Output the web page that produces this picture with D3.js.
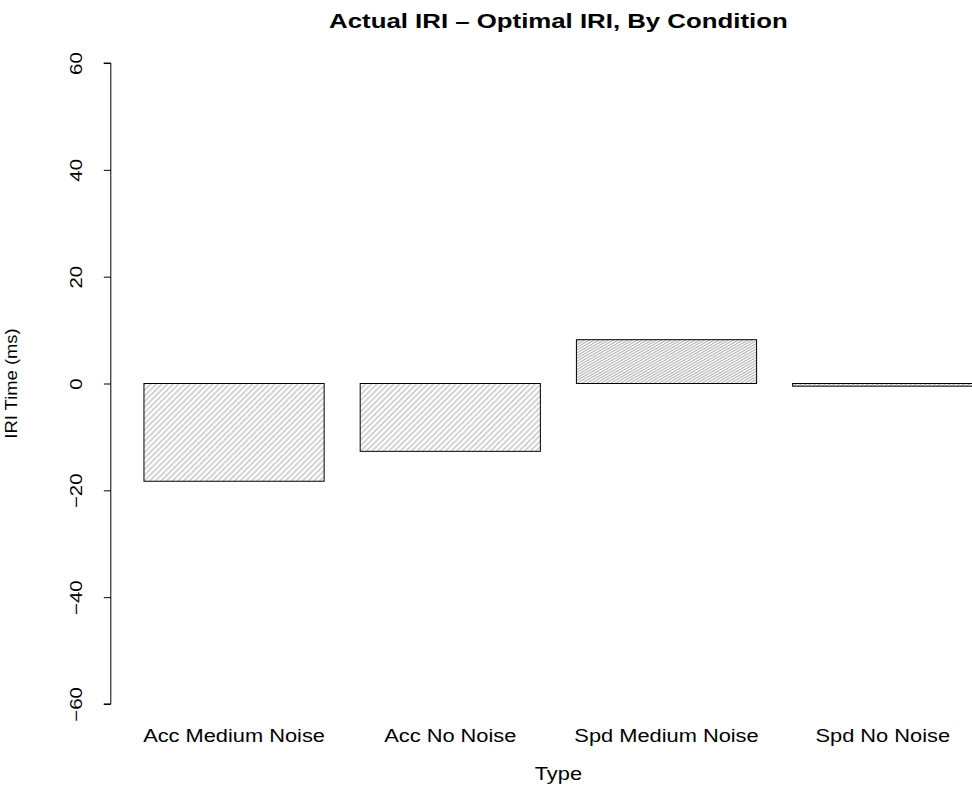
<!DOCTYPE html>
<html>
<head>
<meta charset="utf-8">
<script src="https://cdn.jsdelivr.net/npm/d3@7"></script>
<style>
  html, body { margin: 0; padding: 0; background: #fff; }
  svg { display: block; font-family: "Liberation Sans", Arial, Helvetica, sans-serif; }
</style>
</head>
<body>
<svg id="chart" width="972" height="792"></svg>
<script>
// Difference between actual and optimal IRI per condition
const categories = ["Acc Medium Noise", "Acc No Noise", "Spd Medium Noise", "Spd No Noise"];
const values = [-18.3, -12.7, 8.2, -0.5];
const yTicks = [-60, -40, -20, 0, 20, 40, 60];
// hatch settings per bar: angle (deg) and line spacing (px)
const hatchAngles = [45, 45, 30, 30];
const hatchSpacing = [4, 4, 2.4, 2.4];

const svg = d3.select("#chart");

// wide sans face: glyphs are stretched along the text direction
const wideText = (sel, tx, ty, size, sx, rot) =>
  sel.attr("x", 0).attr("y", 0)
     .attr("font-size", size)
     .attr("transform", `translate(${tx},${ty})${rot ? " rotate(" + rot + ")" : ""} scale(${sx},1)`);

// bar positions in "bar units": width 1, gap 0.2, like a classic barplot
const barW = 1, gap = 0.2;
const lefts = categories.map((c, i) => gap + i * (barW + gap));
const xMin = gap, xMax = gap + categories.length * (barW + gap) - gap;
const xPad = (xMax - xMin) * 0.04;

const plotLeft = 110.8, plotRight = 1006;
const x = d3.scaleLinear().domain([xMin - xPad, xMax + xPad]).range([plotLeft, plotRight]);
const y = d3.scaleLinear().domain([-64.8, 64.8]).range([729.6, 37.4]);
const xMid = (plotLeft + plotRight) / 2;

const defs = svg.append("defs");
categories.forEach((c, i) => {
  const s = hatchSpacing[i];
  const p = defs.append("pattern")
    .attr("id", "hatch" + i)
    .attr("patternUnits", "userSpaceOnUse")
    .attr("width", 10).attr("height", s)
    .attr("patternTransform", `rotate(${-hatchAngles[i]})`);
  p.append("rect").attr("width", 10).attr("height", s).attr("fill", "#fff");
  p.append("line")
    .attr("x1", 0).attr("x2", 10)
    .attr("y1", s / 2).attr("y2", s / 2)
    .attr("stroke", "#aaaaaa").attr("stroke-width", 1);
});

// bars
svg.append("g").selectAll("rect")
  .data(values)
  .join("rect")
  .attr("x", (d, i) => x(lefts[i]))
  .attr("width", (d, i) => x(lefts[i] + barW) - x(lefts[i]))
  .attr("y", d => y(Math.max(0, d)))
  .attr("height", d => Math.abs(y(d) - y(0)))
  .attr("fill", (d, i) => `url(#hatch${i})`)
  .attr("stroke", "#000")
  .attr("stroke-width", 1);

// y axis
const yAxis = d3.axisLeft(y).tickValues(yTicks).tickSize(7).tickFormat(d3.format("d"));
const gy = svg.append("g").attr("transform", `translate(${plotLeft},0)`).call(yAxis);
gy.select(".domain").attr("d", `M-7,${y(60)}H0V${y(-60)}H-7`).attr("stroke", "#000");
gy.selectAll(".tick line").attr("stroke", "#000");
gy.selectAll(".tick text").each(function () {
  wideText(d3.select(this), -28.5, 0, 17, 1.2, -90)
    .attr("fill", "#000")
    .attr("text-anchor", "middle")
    .attr("dy", null);
});

// category labels
svg.append("g").selectAll("text")
  .data(categories)
  .join("text")
  .each(function (d, i) {
    wideText(d3.select(this), x(lefts[i] + barW / 2), 742, 18.5, 1.18);
  })
  .attr("text-anchor", "middle")
  .attr("fill", "#000")
  .text(d => d);

// axis titles
wideText(svg.append("text"), xMid, 780, 18.5, 1.18)
  .attr("text-anchor", "middle")
  .text("Type");

wideText(svg.append("text"), 17, y(0), 16, 1.15, -90)
  .attr("text-anchor", "middle")
  .text("IRI Time (ms)");

// title
wideText(svg.append("text"), xMid, 28, 20, 1.29)
  .attr("text-anchor", "middle")
  .attr("font-weight", "bold")
  .text("Actual IRI \u2013 Optimal IRI, By Condition");
</script>
</body>
</html>
